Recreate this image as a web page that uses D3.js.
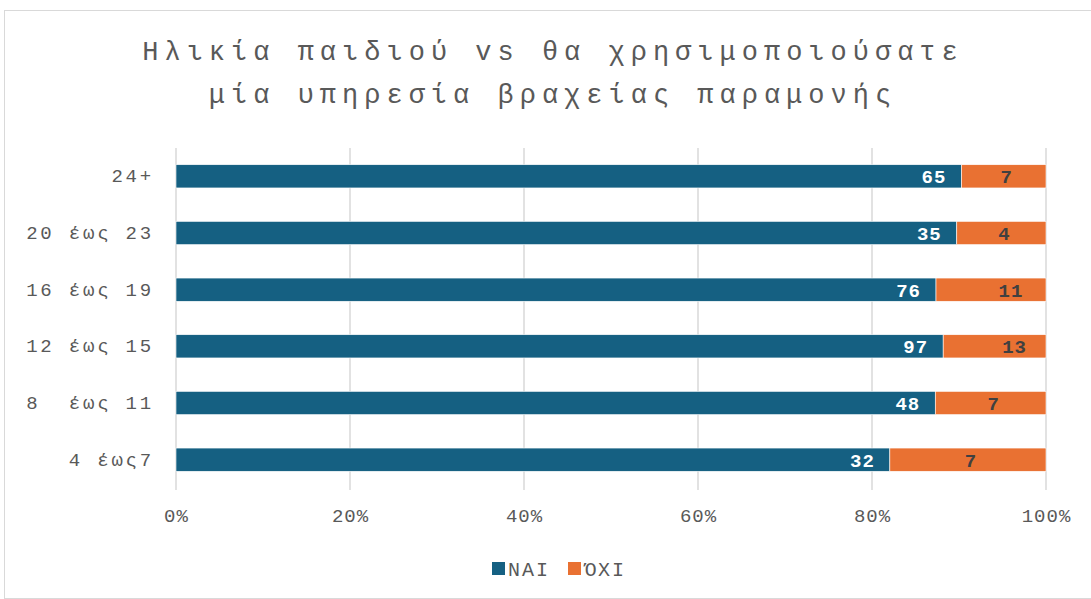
<!DOCTYPE html>
<html><head><meta charset="utf-8">
<script src="https://cdn.jsdelivr.net/npm/d3@7"></script>
<style>body{margin:0;background:#fff;} svg{display:block;}</style>
</head><body>
<svg id="c" width="1091" height="599"></svg>
<script>
const categories = ["24+", "20 έως 23", "16 έως 19", "12 έως 15", "8  έως 11", "4 έως7"];
const nai = [65, 35, 76, 97, 48, 32];
const oxi = [7, 4, 11, 13, 7, 7];
const seriesNames = ["ΝΑΙ", "ΌΧΙ"];
const tickValues = [0, 0.2, 0.4, 0.6, 0.8, 1];
const titleLines = ["Ηλικία παιδιού vs θα χρησιμοποιούσατε", "μία υπηρεσία βραχείας παραμονής"];

const colors = ["#156082", "#E97132"];
const font = "'Liberation Mono','Courier New',monospace";
const svg = d3.select("#c");
svg.append("rect").attr("x", 4.5).attr("y", 10.5).attr("width", 1090).attr("height", 588)
  .attr("fill", "#fff").attr("stroke", "#d9d9d9");

const m = {left: 176, right: 1046, top: 148, bottom: 488};
const x = d3.scaleLinear().domain([0, 1]).range([m.left, m.right]);
const y = d3.scaleBand().domain(categories).range([m.top, m.bottom]).paddingInner(0.59).paddingOuter(0.295);

// title
svg.append("g").selectAll("text").data(titleLines).join("text")
  .attr("x", 553).attr("y", (d, i) => 60 + i * 43)
  .attr("text-anchor", "middle").attr("font-family", font).attr("font-size", 27)
  .attr("letter-spacing", 6.0).attr("fill", "#595959").attr("font-weight", 300)
  .text(d => d);

// gridlines
svg.append("g").selectAll("line").data(tickValues).join("line")
  .attr("x1", d => x(d)).attr("x2", d => x(d)).attr("y1", m.top).attr("y2", m.bottom + 2)
  .attr("stroke", "#d9d9d9").attr("stroke-width", 1.5);

// x axis
const xAxis = d3.axisBottom(x).tickValues(tickValues).tickFormat(d3.format(".0%")).tickSize(0).tickPadding(0);
const gx = svg.append("g").attr("transform", `translate(0,${m.bottom + 34})`).call(xAxis);
gx.select(".domain").remove();
gx.selectAll("text").attr("font-family", font).attr("font-size", 19).attr("letter-spacing", 1)
  .attr("fill", "#595959").attr("dy", 0);

// y axis
const yAxis = d3.axisLeft(y).tickSize(0).tickPadding(22);
const gy = svg.append("g").attr("transform", `translate(${m.left},0)`).call(yAxis);
gy.select(".domain").remove();
gy.selectAll("text").attr("font-family", font).attr("font-size", 19).attr("letter-spacing", 2.8)
  .attr("fill", "#595959").attr("xml:space", "preserve").style("white-space", "pre");

// data
const data = categories.map((c, i) => {
  const t = nai[i] + oxi[i];
  return {c, nai: nai[i], oxi: oxi[i], p: nai[i] / t};
});
const bars = svg.append("g");
bars.selectAll("rect.n").data(data).join("rect").attr("class", "n")
  .attr("x", x(0)).attr("y", d => y(d.c)).attr("width", d => x(d.p) - x(0)).attr("height", y.bandwidth())
  .attr("fill", colors[0]).attr("stroke", "#fff").attr("stroke-width", 0.6);
bars.selectAll("rect.o").data(data).join("rect").attr("class", "o")
  .attr("x", d => x(d.p)).attr("y", d => y(d.c)).attr("width", d => x(1) - x(d.p)).attr("height", y.bandwidth())
  .attr("fill", colors[1]).attr("stroke", "#fff").attr("stroke-width", 0.6);

const lab = svg.append("g").attr("font-family", font).attr("font-size", 19).attr("font-weight", "bold").attr("letter-spacing", 1);
lab.selectAll("text.n").data(data).join("text")
  .attr("x", d => x(d.p) - 15).attr("y", d => y(d.c) + y.bandwidth() / 2).attr("dy", "0.36em")
  .attr("text-anchor", "end").attr("fill", "#fff").text(d => d.nai);
lab.selectAll("text.o").data(data).join("text")
  .attr("x", d => (x(d.p) + x(1)) / 2 + (String(d.oxi).length > 1 ? 20 : 3)).attr("y", d => y(d.c) + y.bandwidth() / 2).attr("dy", "0.36em")
  .attr("text-anchor", "middle").attr("fill", "#404040").text(d => d.oxi);

// legend
const lg = svg.append("g").attr("transform", "translate(492,568)");
const items = lg.selectAll("g").data(seriesNames).join("g").attr("transform", (d, i) => `translate(${i * 76},0)`);
items.append("rect").attr("x", 0).attr("y", -6).attr("width", 13).attr("height", 13).attr("fill", (d, i) => colors[i]);
items.append("text").attr("x", 16).attr("y", 1).attr("dy", "0.36em").attr("font-family", font).attr("font-size", 20)
  .attr("letter-spacing", 2).attr("fill", "#595959").text(d => d);
</script>
</body></html>
